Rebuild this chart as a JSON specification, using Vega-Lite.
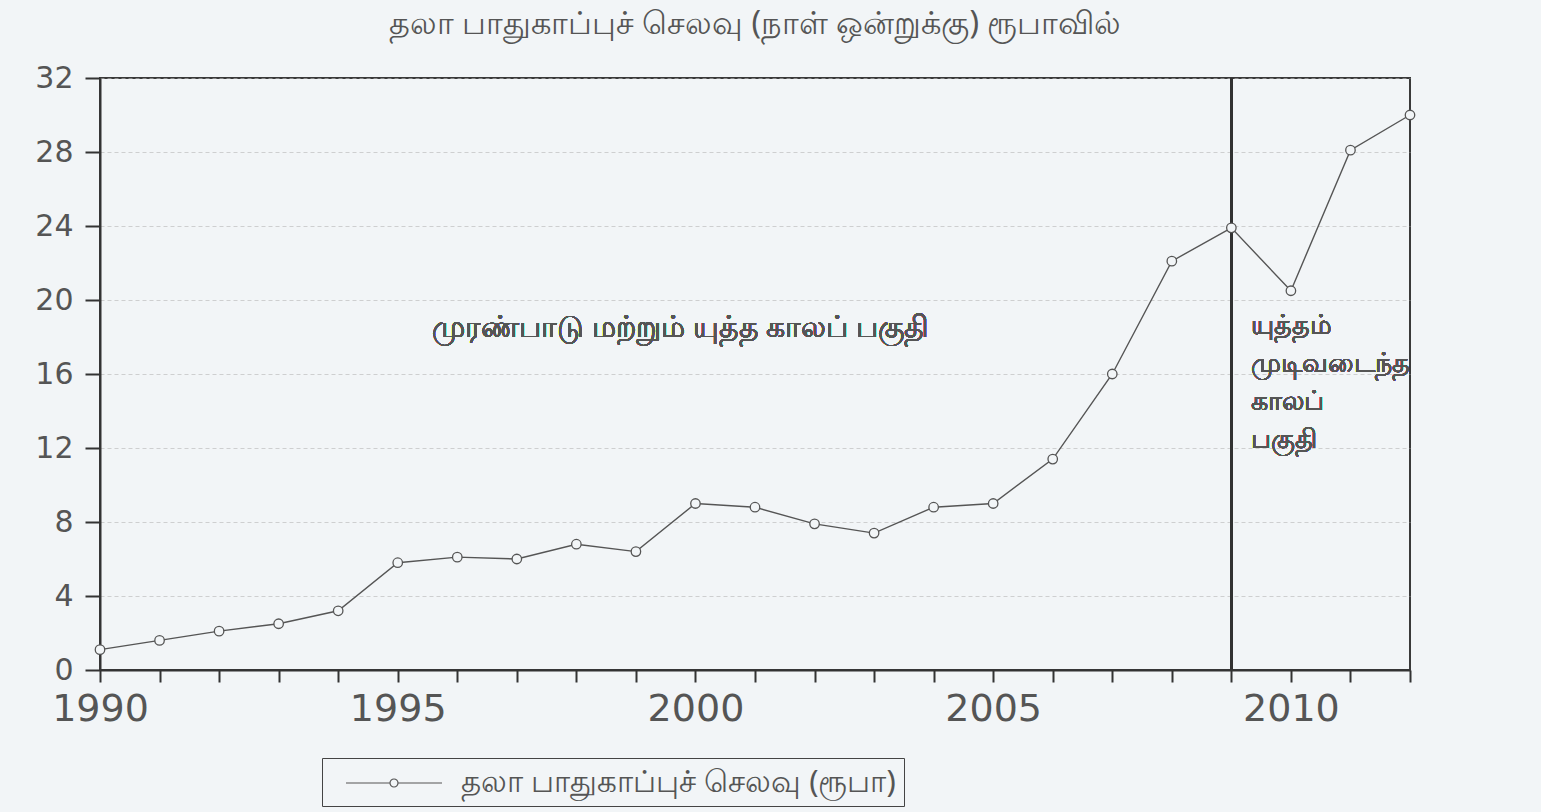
{
  "$schema": "https://vega.github.io/schema/vega-lite/v6.json",
  "width": 1310,
  "height": 592,
  "autosize": {"type": "none"},
  "padding": {"left": 100, "top": 78, "right": 131, "bottom": 142},
  "background": "#f2f5f7",
  "title": {
    "text": "தலா பாதுகாப்புச் செலவு (நாள் ஒன்றுக்கு) ரூபாவில்",
    "fontSize": 32,
    "font": "Noto Sans",
    "fontWeight": "normal",
    "color": "#555555",
    "offset": 22,
    "anchor": "middle"
  },
  "config": {
    "view": {"stroke": "#3a3a3a", "strokeWidth": 2}
  },
  "data": {
    "values": [
      {"year": 1990, "value": 1.1},
      {"year": 1991, "value": 1.6},
      {"year": 1992, "value": 2.1},
      {"year": 1993, "value": 2.5},
      {"year": 1994, "value": 3.2},
      {"year": 1995, "value": 5.8},
      {"year": 1996, "value": 6.1},
      {"year": 1997, "value": 6.0},
      {"year": 1998, "value": 6.8},
      {"year": 1999, "value": 6.4},
      {"year": 2000, "value": 9.0},
      {"year": 2001, "value": 8.8},
      {"year": 2002, "value": 7.9},
      {"year": 2003, "value": 7.4},
      {"year": 2004, "value": 8.8},
      {"year": 2005, "value": 9.0},
      {"year": 2006, "value": 11.4},
      {"year": 2007, "value": 16.0},
      {"year": 2008, "value": 22.1},
      {"year": 2009, "value": 23.9},
      {"year": 2010, "value": 20.5},
      {"year": 2011, "value": 28.1},
      {"year": 2012, "value": 30.0}
    ]
  },
  "layer": [
    {
      "mark": {"type": "rule", "color": "#333333", "strokeWidth": 2},
      "encoding": {"x": {"datum": 2009, "type": "quantitative"}}
    },
    {
      "mark": {"type": "line", "strokeWidth": 1.4},
      "encoding": {
        "x": {
          "field": "year",
          "type": "quantitative",
          "scale": {"domain": [1990, 2012], "nice": false, "zero": false},
          "axis": {
            "title": null,
            "values": [1990, 1991, 1992, 1993, 1994, 1995, 1996, 1997, 1998, 1999, 2000, 2001, 2002, 2003, 2004, 2005, 2006, 2007, 2008, 2009, 2010, 2011, 2012],
            "format": "d",
            "labelExpr": "datum.value % 5 === 0 ? datum.label : ''",
            "grid": false,
            "tickSize": 12,
            "tickColor": "#333333",
            "tickWidth": 2,
            "domainColor": "#333333",
            "domainWidth": 2,
            "labelFont": "DejaVu Sans",
            "labelFontSize": 38,
            "labelColor": "#555555",
            "labelPadding": 8,
            "labelFlush": false,
            "labelOverlap": false
          }
        },
        "y": {
          "field": "value",
          "type": "quantitative",
          "scale": {"domain": [0, 32], "nice": false},
          "axis": {
            "title": null,
            "values": [0, 4, 8, 12, 16, 20, 24, 28, 32],
            "grid": true,
            "gridDash": [4, 3],
            "gridColor": "#b5b5b5",
            "gridOpacity": 0.6,
            "tickSize": 15,
            "tickColor": "#333333",
            "tickWidth": 2,
            "domainColor": "#333333",
            "domainWidth": 2,
            "labelFont": "DejaVu Sans",
            "labelFontSize": 30,
            "labelColor": "#555555",
            "labelPadding": 12,
            "labelFlush": false,
            "labelOverlap": false
          }
        },
        "color": {
          "datum": "தலா பாதுகாப்புச் செலவு (ரூபா)",
          "scale": {"range": ["#555555"]},
          "legend": {
            "orient": "none",
            "legendX": 222,
            "legendY": 680,
            "title": null,
            "direction": "horizontal",
            "symbolType": "M-3,0H-0.25M0.25,0H3M0.25,0A0.25,0.25 0 1,1 -0.25,0A0.25,0.25 0 1,1 0.25,0",
            "symbolSize": 1024,
            "symbolStrokeWidth": 1.2,
            "symbolFillColor": "transparent",
            "symbolOffset": 47,
            "labelOffset": 50,
            "labelFont": "Noto Sans",
            "labelFontSize": 31,
            "labelColor": "#555555",
            "labelLimit": 1000,
            "strokeColor": "#444444",
            "padding": 8
          }
        }
      }
    },
    {
      "mark": {"type": "point", "filled": true, "fill": "#f2f5f7", "stroke": "#555555", "strokeWidth": 1.3, "size": 90, "opacity": 1},
      "encoding": {
        "x": {"field": "year", "type": "quantitative"},
        "y": {"field": "value", "type": "quantitative"}
      }
    },
    {
      "mark": {"type": "text", "align": "center", "baseline": "middle", "font": "Noto Sans", "fontSize": 30, "color": "#555555"},
      "encoding": {
        "x": {"datum": 1999.75, "type": "quantitative"},
        "y": {"datum": 18.5, "type": "quantitative"},
        "text": {"value": "முரண்பாடு மற்றும் யுத்த காலப் பகுதி"}
      }
    },
    {
      "mark": {"type": "text", "align": "left", "baseline": "top", "font": "Noto Sans", "fontSize": 27, "color": "#555555", "lineBreak": "\n", "lineHeight": 38},
      "encoding": {
        "x": {"datum": 2009.33, "type": "quantitative"},
        "y": {"datum": 19.3, "type": "quantitative"},
        "text": {"value": "யுத்தம்\nமுடிவடைந்த\nகாலப்\nபகுதி"}
      }
    }
  ]
}
